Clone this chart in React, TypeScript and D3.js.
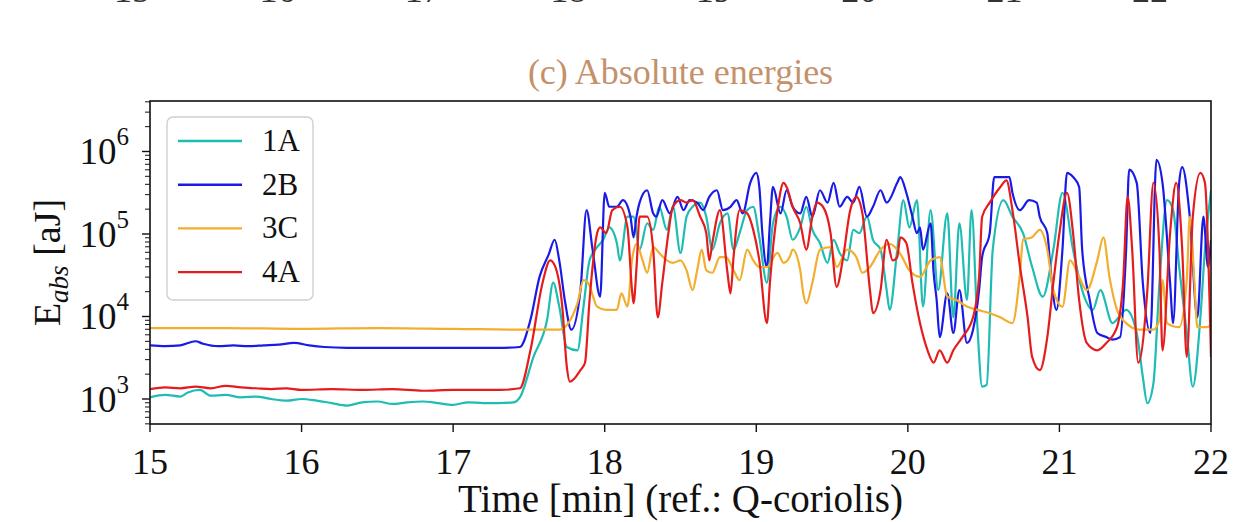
import React, { useRef, useEffect } from 'react';
import * as d3 from 'd3';

const xTicks = [15, 16, 17, 18, 19, 20, 21, 22];
const yDecades = [3, 4, 5, 6];
const seriesNames = ['1A', '2B', '3C', '4A'];
const seriesColors = ['#1fbcb4', '#1a1ae6', '#f2ae2e', '#e41c1c'];

// [time (min), log10 of E_abs (aJ)]
const log10E_1A: [number, number][] = [
  [15.0, 3.02], [15.1, 3.05], [15.2, 3.03], [15.25, 3.08], [15.33, 3.11], [15.4, 3.04], [15.5, 3.05],
  [15.6, 3.02], [15.7, 3.03], [15.8, 3.0], [15.9, 2.98], [16.0, 3.0], [16.1, 2.98], [16.2, 2.95],
  [16.3, 2.92], [16.4, 2.96], [16.5, 2.97], [16.6, 2.94], [16.7, 2.96], [16.8, 2.97], [16.9, 2.95],
  [17.0, 2.93], [17.1, 2.96], [17.2, 2.95], [17.3, 2.95], [17.4, 2.96], [17.44, 3.02], [17.53, 3.51],
  [17.62, 3.96], [17.66, 4.41], [17.7, 4.12], [17.75, 3.63], [17.82, 3.59], [17.86, 4.12], [17.9, 4.68],
  [17.95, 4.84], [17.99, 4.93], [18.03, 5.08], [18.08, 4.89], [18.1, 4.68], [18.15, 5.21], [18.19, 5.21],
  [18.23, 4.81], [18.28, 5.13], [18.32, 5.05], [18.36, 5.33], [18.41, 5.05], [18.45, 5.33], [18.5, 4.77],
  [18.54, 5.21], [18.58, 5.33], [18.63, 5.38], [18.67, 5.21], [18.71, 4.81], [18.76, 5.13], [18.81, 5.25],
  [18.85, 4.81], [18.89, 5.01], [18.94, 5.29], [18.98, 5.33], [19.02, 4.96], [19.07, 4.41], [19.11, 5.13],
  [19.16, 5.33], [19.2, 5.21], [19.24, 4.93], [19.29, 5.08], [19.33, 5.33], [19.37, 5.05], [19.42, 4.89],
  [19.47, 4.65], [19.51, 4.93], [19.55, 4.77], [19.6, 4.68], [19.64, 5.05], [19.68, 5.01], [19.73, 5.21],
  [19.77, 4.93], [19.82, 4.81], [19.86, 4.32], [19.88, 4.08], [19.93, 4.81], [19.97, 5.41], [20.01, 5.08],
  [20.06, 5.41], [20.1, 4.12], [20.15, 5.29], [20.2, 4.32], [20.26, 5.25], [20.3, 3.99], [20.34, 5.13],
  [20.39, 4.2], [20.42, 5.29], [20.46, 3.84], [20.49, 3.15], [20.52, 3.17], [20.56, 4.81], [20.63, 5.41],
  [20.69, 5.21], [20.76, 5.01], [20.82, 4.6], [20.89, 4.24], [20.96, 4.81], [21.02, 5.5], [21.09, 4.81],
  [21.15, 4.32], [21.22, 4.08], [21.27, 4.32], [21.35, 3.92], [21.44, 4.08], [21.51, 3.8], [21.55, 3.27],
  [21.58, 2.95], [21.62, 3.19], [21.66, 4.41], [21.71, 5.41], [21.75, 5.29], [21.79, 4.6], [21.84, 3.8],
  [21.88, 3.15], [21.93, 3.99], [21.96, 4.81], [22.0, 5.53],
];

const log10E_2B: [number, number][] = [
  [15.0, 3.65], [15.1, 3.64], [15.2, 3.65], [15.3, 3.7], [15.35, 3.67], [15.45, 3.64], [15.55, 3.65],
  [15.65, 3.64], [15.75, 3.65], [15.85, 3.66], [15.95, 3.68], [16.05, 3.65], [16.15, 3.63], [16.3, 3.62],
  [16.5, 3.62], [16.7, 3.62], [16.9, 3.62], [17.1, 3.62], [17.3, 3.62], [17.44, 3.63], [17.51, 3.96],
  [17.57, 4.48], [17.63, 4.75], [17.67, 4.93], [17.7, 4.68], [17.74, 4.16], [17.78, 3.84], [17.84, 4.32],
  [17.88, 5.29], [17.92, 4.81], [17.97, 4.24], [18.0, 5.5], [18.03, 5.33], [18.08, 5.33], [18.12, 5.41],
  [18.17, 5.21], [18.19, 4.96], [18.21, 5.21], [18.23, 5.38], [18.28, 5.53], [18.32, 5.25], [18.34, 5.21],
  [18.38, 5.41], [18.43, 5.25], [18.48, 5.45], [18.52, 5.29], [18.56, 5.41], [18.61, 5.38], [18.65, 5.29],
  [18.69, 5.45], [18.74, 5.53], [18.78, 5.29], [18.83, 5.33], [18.87, 5.41], [18.91, 5.25], [18.96, 5.62],
  [19.0, 5.74], [19.02, 5.57], [19.04, 5.01], [19.07, 4.6], [19.09, 5.13], [19.11, 5.57], [19.16, 5.25],
  [19.2, 5.53], [19.24, 5.33], [19.29, 5.25], [19.33, 5.45], [19.37, 5.21], [19.42, 5.53], [19.47, 5.38],
  [19.51, 5.62], [19.55, 5.33], [19.6, 5.45], [19.64, 5.38], [19.68, 5.57], [19.73, 5.21], [19.77, 5.33],
  [19.82, 5.53], [19.86, 5.38], [19.93, 5.62], [19.95, 5.69], [19.99, 5.5], [20.03, 5.21], [20.06, 5.01],
  [20.08, 5.08], [20.1, 4.81], [20.15, 5.13], [20.17, 4.53], [20.19, 4.2], [20.21, 3.75], [20.26, 4.28],
  [20.3, 3.8], [20.34, 4.32], [20.39, 3.68], [20.43, 3.84], [20.47, 4.32], [20.49, 4.72], [20.54, 5.01],
  [20.57, 5.69], [20.63, 5.69], [20.67, 5.69], [20.69, 5.5], [20.74, 5.29], [20.8, 5.41], [20.85, 5.38],
  [20.87, 5.21], [20.92, 5.01], [20.94, 4.6], [20.98, 4.08], [21.02, 4.81], [21.05, 5.74], [21.09, 5.69],
  [21.13, 5.57], [21.15, 4.81], [21.2, 4.2], [21.25, 3.8], [21.31, 3.75], [21.35, 3.72], [21.4, 3.75],
  [21.44, 4.81], [21.46, 5.78], [21.51, 5.62], [21.55, 4.41], [21.6, 3.8], [21.64, 5.9], [21.68, 5.62],
  [21.73, 4.41], [21.75, 3.92], [21.79, 5.62], [21.81, 5.81], [21.86, 5.21], [21.91, 3.99], [21.95, 5.21],
  [21.98, 4.6], [22.0, 4.93],
];

const log10E_3C: [number, number][] = [
  [15.0, 3.86], [15.5, 3.86], [16.0, 3.85], [16.5, 3.86], [17.0, 3.85], [17.5, 3.84], [17.7, 3.84],
  [17.82, 4.16], [17.86, 4.44], [17.89, 4.41], [17.95, 4.12], [18.01, 4.08], [18.08, 4.08], [18.11, 4.28],
  [18.15, 4.12], [18.18, 4.68], [18.21, 4.88], [18.25, 4.68], [18.28, 4.53], [18.32, 4.84], [18.36, 4.77],
  [18.41, 4.68], [18.45, 4.65], [18.5, 4.68], [18.54, 4.56], [18.58, 4.32], [18.61, 4.56], [18.64, 4.81],
  [18.67, 4.56], [18.71, 4.53], [18.76, 4.72], [18.8, 4.72], [18.85, 4.56], [18.89, 4.44], [18.94, 4.81],
  [18.98, 4.68], [19.02, 4.6], [19.07, 4.6], [19.14, 4.77], [19.18, 4.65], [19.22, 4.72], [19.24, 4.81],
  [19.29, 4.56], [19.31, 4.28], [19.33, 4.16], [19.37, 4.41], [19.42, 4.81], [19.49, 4.84], [19.53, 4.6],
  [19.6, 4.81], [19.66, 4.72], [19.7, 4.53], [19.75, 4.6], [19.82, 4.81], [19.88, 4.88], [19.95, 4.76],
  [20.01, 4.56], [20.08, 4.48], [20.15, 4.68], [20.21, 4.72], [20.26, 4.24], [20.32, 4.2], [20.39, 4.12],
  [20.46, 4.08], [20.54, 4.04], [20.61, 3.99], [20.69, 3.92], [20.74, 4.53], [20.76, 4.93], [20.82, 4.96],
  [20.87, 5.05], [20.92, 4.81], [20.96, 4.32], [21.02, 4.12], [21.07, 4.68], [21.13, 4.48], [21.18, 4.32],
  [21.25, 4.68], [21.29, 4.96], [21.33, 4.48], [21.38, 4.08], [21.44, 3.92], [21.53, 3.84], [21.62, 3.84],
  [21.66, 3.96], [21.68, 4.44], [21.71, 3.92], [21.79, 3.87], [21.84, 4.44], [21.86, 5.21], [21.89, 4.44],
  [21.91, 3.87], [21.97, 3.87], [22.0, 3.9],
];

const log10E_4A: [number, number][] = [
  [15.0, 3.12], [15.1, 3.14], [15.2, 3.13], [15.3, 3.15], [15.4, 3.13], [15.5, 3.16], [15.6, 3.14],
  [15.7, 3.13], [15.8, 3.12], [15.9, 3.13], [16.0, 3.11], [16.2, 3.12], [16.4, 3.11], [16.6, 3.12],
  [16.8, 3.1], [17.0, 3.11], [17.2, 3.11], [17.31, 3.11], [17.44, 3.13], [17.51, 3.59], [17.59, 4.41],
  [17.64, 4.68], [17.67, 4.62], [17.72, 4.12], [17.75, 3.39], [17.77, 3.21], [17.84, 3.35], [17.87, 3.44],
  [17.9, 4.2], [17.95, 5.01], [17.97, 5.08], [18.01, 5.01], [18.05, 5.29], [18.1, 5.33], [18.15, 5.08],
  [18.18, 4.32], [18.19, 4.16], [18.21, 4.6], [18.23, 5.21], [18.28, 5.21], [18.32, 4.81], [18.35, 3.99],
  [18.38, 4.41], [18.42, 5.01], [18.45, 5.33], [18.5, 5.41], [18.54, 5.38], [18.58, 5.41], [18.63, 5.21],
  [18.67, 5.01], [18.69, 4.68], [18.71, 4.89], [18.76, 5.29], [18.81, 4.53], [18.83, 4.28], [18.85, 4.72],
  [18.89, 5.29], [18.94, 5.25], [18.98, 5.05], [19.02, 4.68], [19.07, 3.92], [19.09, 4.41], [19.14, 5.29],
  [19.18, 5.62], [19.2, 5.57], [19.24, 5.33], [19.29, 5.13], [19.33, 4.81], [19.37, 5.21], [19.4, 5.38],
  [19.44, 5.33], [19.49, 5.01], [19.53, 4.36], [19.57, 4.68], [19.62, 5.29], [19.66, 5.45], [19.7, 5.25],
  [19.75, 4.32], [19.77, 4.04], [19.82, 4.32], [19.86, 4.93], [19.9, 4.68], [19.93, 4.72], [19.95, 4.96],
  [19.99, 4.89], [20.03, 4.41], [20.08, 3.92], [20.13, 3.59], [20.17, 3.44], [20.21, 3.59], [20.26, 3.44],
  [20.3, 3.59], [20.36, 3.75], [20.43, 3.99], [20.47, 4.48], [20.49, 5.21], [20.54, 5.38], [20.61, 5.57],
  [20.65, 5.65], [20.69, 5.29], [20.74, 4.6], [20.79, 3.99], [20.82, 3.51], [20.87, 3.35], [20.92, 3.75],
  [20.96, 4.41], [21.0, 5.01], [21.05, 5.5], [21.09, 5.01], [21.13, 4.2], [21.18, 3.68], [21.25, 3.59],
  [21.31, 3.68], [21.38, 3.87], [21.42, 4.41], [21.45, 5.45], [21.48, 4.81], [21.52, 3.44], [21.58, 4.32],
  [21.62, 5.62], [21.66, 4.81], [21.68, 3.59], [21.73, 5.01], [21.77, 5.62], [21.81, 4.81], [21.84, 3.51],
  [21.88, 5.21], [21.93, 5.74], [21.96, 5.62], [22.0, 3.51],
];

const allSeries = [log10E_1A, log10E_2B, log10E_3C, log10E_4A];

const App = () => {
  const ref = useRef<SVGSVGElement | null>(null);

  useEffect(() => {
    if (!ref.current) return;
    const svg = d3.select(ref.current);
    svg.selectAll('*').remove();

    const width = 1243;
    const height = 522;
    const left = 150, right = 1211, top = 101, bottom = 424;
    const font = '"Liberation Serif", "Times New Roman", serif';

    const x = d3.scaleLinear().domain([15, 22]).range([left, right]);
    const y = d3.scaleLog().domain([Math.pow(10, 2.697), Math.pow(10, 6.612)]).range([bottom, top]);

    svg.attr('width', width).attr('height', height);
    svg.append('rect').attr('width', width).attr('height', height).attr('fill', 'white');

    // tick labels of the panel above, mostly cut off by the top edge
    const xPrev = d3.scaleLinear().domain([15, 22]).range([132, 1150]);
    svg.append('g').selectAll('text')
      .data(xTicks)
      .join('text')
      .attr('x', d => xPrev(d))
      .attr('y', 2)
      .attr('text-anchor', 'middle')
      .style('font-family', font)
      .style('font-size', '36px')
      .attr('fill', '#333')
      .text(d => d);

    svg.append('defs').append('clipPath').attr('id', 'plot-clip')
      .append('rect')
      .attr('x', left).attr('y', top)
      .attr('width', right - left).attr('height', bottom - top);

    const line = d3.line<[number, number]>()
      .x(d => x(d[0]))
      .y(d => y(Math.pow(10, d[1])))
      .curve(d3.curveMonotoneX);

    const plot = svg.append('g').attr('clip-path', 'url(#plot-clip)');
    plot.selectAll('path')
      .data(allSeries)
      .join('path')
      .attr('d', d => line(d))
      .attr('fill', 'none')
      .attr('stroke', (d, i) => seriesColors[i])
      .attr('stroke-width', 2.2)
      .attr('stroke-linejoin', 'round');

    // frame
    svg.append('rect')
      .attr('x', left).attr('y', top)
      .attr('width', right - left).attr('height', bottom - top)
      .attr('fill', 'none')
      .attr('stroke', '#111')
      .attr('stroke-width', 1.6);

    // x ticks
    const gx = svg.append('g');
    gx.selectAll('line')
      .data(xTicks)
      .join('line')
      .attr('x1', d => x(d)).attr('x2', d => x(d))
      .attr('y1', bottom).attr('y2', bottom + 8)
      .attr('stroke', '#111').attr('stroke-width', 1.4);
    gx.selectAll('text')
      .data(xTicks)
      .join('text')
      .attr('x', d => x(d))
      .attr('y', 474)
      .attr('text-anchor', 'middle')
      .style('font-family', font)
      .style('font-size', '36px')
      .attr('fill', '#111')
      .text(d => d);

    // y ticks (log)
    const [y0, y1] = y.domain();
    const minor: number[] = [];
    for (let e = 2; e <= 6; e++) {
      for (let m = 2; m <= 9; m++) {
        const v = m * Math.pow(10, e);
        if (v >= y0 && v <= y1) minor.push(v);
      }
    }
    const gy = svg.append('g');
    gy.selectAll('line.minor')
      .data(minor)
      .join('line')
      .attr('class', 'minor')
      .attr('x1', left - 5).attr('x2', left)
      .attr('y1', d => y(d)).attr('y2', d => y(d))
      .attr('stroke', '#111').attr('stroke-width', 1);
    gy.selectAll('line.major')
      .data(yDecades)
      .join('line')
      .attr('class', 'major')
      .attr('x1', left - 8).attr('x2', left)
      .attr('y1', d => y(Math.pow(10, d))).attr('y2', d => y(Math.pow(10, d)))
      .attr('stroke', '#111').attr('stroke-width', 1.4);
    const yl = gy.selectAll('text')
      .data(yDecades)
      .join('text')
      .attr('x', 129)
      .attr('y', d => y(Math.pow(10, d)) + 13)
      .attr('text-anchor', 'end')
      .style('font-family', font)
      .style('font-size', '37px')
      .attr('fill', '#111');
    yl.append('tspan').text('10');
    yl.append('tspan').attr('dy', -19).style('font-size', '25px').text(d => d);

    // axis labels and title
    svg.append('text')
      .attr('x', (left + right) / 2)
      .attr('y', 512)
      .attr('text-anchor', 'middle')
      .style('font-family', font)
      .style('font-size', '39px')
      .attr('fill', '#111')
      .text('Time [min] (ref.: Q-coriolis)');

    const ylab = svg.append('text')
      .attr('transform', `translate(60, ${(top + bottom) / 2}) rotate(-90)`)
      .attr('text-anchor', 'middle')
      .style('font-family', font)
      .style('font-size', '38px')
      .attr('fill', '#111');
    ylab.append('tspan').text('E');
    ylab.append('tspan').attr('dy', 8).style('font-size', '27px').style('font-style', 'italic').text('abs');
    ylab.append('tspan').attr('dy', -8).text(' [aJ]');

    svg.append('text')
      .attr('x', (left + right) / 2)
      .attr('y', 84)
      .attr('text-anchor', 'middle')
      .style('font-family', font)
      .style('font-size', '36px')
      .attr('fill', '#c4916b')
      .text('(c) Absolute energies');

    // legend
    const lg = svg.append('g');
    lg.append('rect')
      .attr('x', 167).attr('y', 117)
      .attr('width', 146).attr('height', 183)
      .attr('rx', 6)
      .attr('fill', 'white').attr('fill-opacity', 0.85)
      .attr('stroke', '#d0d0d0').attr('stroke-width', 1.4);
    const rows = lg.selectAll('g.row')
      .data(seriesNames)
      .join('g')
      .attr('class', 'row')
      .attr('transform', (d, i) => `translate(0, ${141 + i * 43.7})`);
    rows.append('line')
      .attr('x1', 178).attr('x2', 242)
      .attr('stroke', (d, i) => seriesColors[i])
      .attr('stroke-width', 2.4);
    rows.append('text')
      .attr('x', 262).attr('y', 10)
      .style('font-family', font)
      .style('font-size', '31px')
      .attr('fill', '#111')
      .text(d => d);
  }, []);

  return (
    <svg ref={ref} style={{ position: 'absolute', left: 0, top: 0, display: 'block' }} />
  );
};

export default App;
